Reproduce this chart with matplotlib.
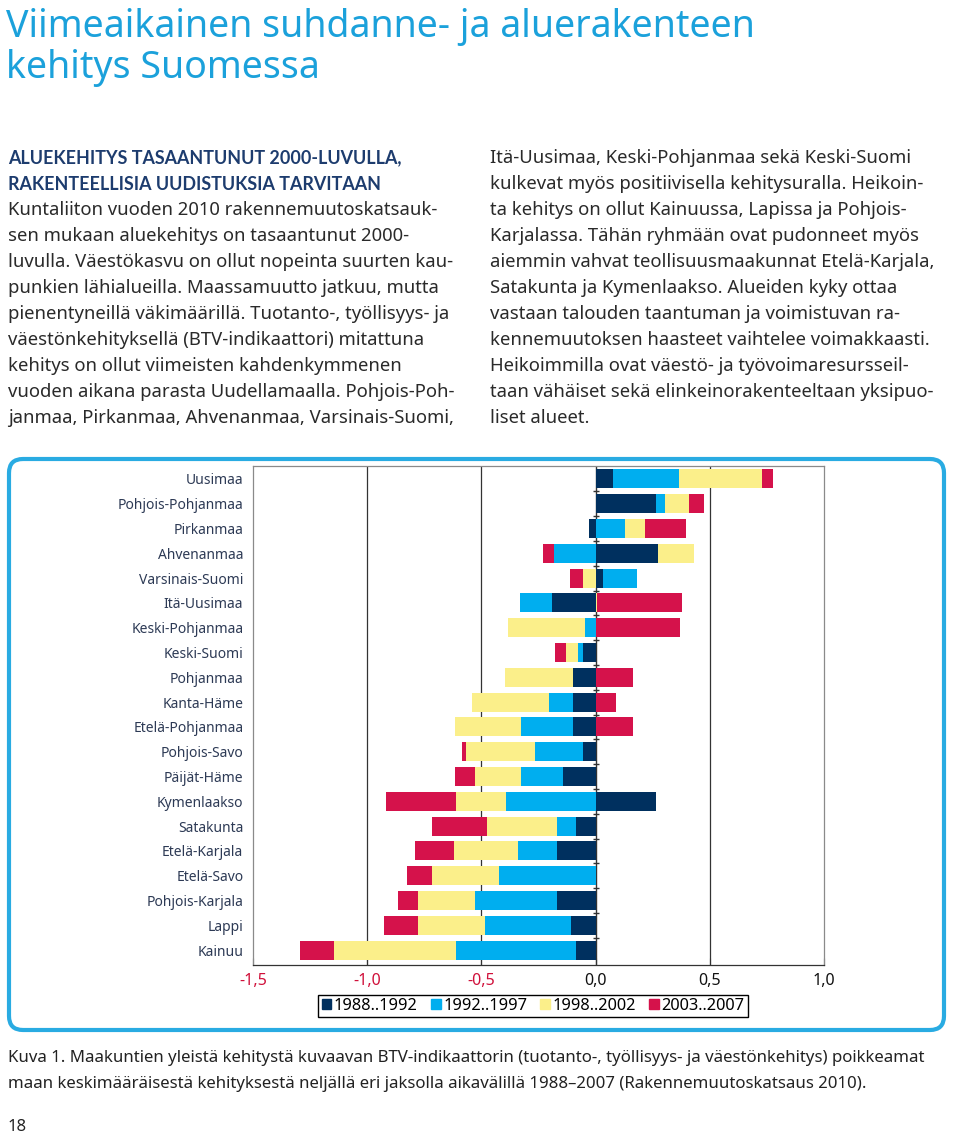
import numpy as np
import matplotlib
matplotlib.use("Agg")
import matplotlib.pyplot as plt
from matplotlib.patches import FancyBboxPatch, Patch

plt.rcParams.update({"font.family": "Noto Sans"})

# ── data ─────────────────────────────────────────────────────────────────────
regions = ["Uusimaa", "Pohjois-Pohjanmaa", "Pirkanmaa", "Ahvenanmaa", "Varsinais-Suomi",
           "Itä-Uusimaa", "Keski-Pohjanmaa", "Keski-Suomi", "Pohjanmaa", "Kanta-Häme",
           "Etelä-Pohjanmaa", "Pohjois-Savo", "Päijät-Häme", "Kymenlaakso", "Satakunta",
           "Etelä-Karjala", "Etelä-Savo", "Pohjois-Karjala", "Lappi", "Kainuu"]
periods = ["1988..1992", "1992..1997", "1998..2002", "2003..2007"]
p1988 = [0.074, 0.263, -0.030, 0.272, 0.031, -0.192, 0.000, -0.057, -0.099, -0.099,
         -0.099, -0.057, -0.141, 0.266, -0.088, -0.170, 0.000, -0.170, -0.108, -0.088]
p1992 = [0.290, 0.040, 0.130, -0.183, 0.152, -0.141, -0.046, -0.020, 0.000, -0.105,
         -0.229, -0.209, -0.187, -0.392, -0.082, -0.170, -0.423, -0.356, -0.376, -0.522]
p1998 = [0.365, 0.105, 0.085, 0.161, -0.057, 0.006, -0.339, -0.053, -0.297, -0.337,
         -0.288, -0.302, -0.200, -0.218, -0.305, -0.282, -0.293, -0.251, -0.293, -0.534]
p2003 = [0.046, 0.067, 0.180, -0.046, -0.056, 0.372, 0.368, -0.046, 0.163, 0.090,
         0.163, -0.015, -0.088, -0.308, -0.243, -0.170, -0.108, -0.088, -0.150, -0.152]
xticks = [-1.5, -1.0, -0.5, 0.0, 0.5, 1.0]

C_NAVY = "#00305f"; C_CYAN = "#00aeef"; C_YEL = "#fbef8a"; C_RED = "#d5124b"
C_TITLE = "#1ba1db"; C_HEAD = "#1d3c6e"; C_BODY = "#2a2a2a"; C_LAB = "#2d3a55"
colors = [C_NAVY, C_CYAN, C_YEL, C_RED]

title_lines = ["Viimeaikainen suhdanne- ja aluerakenteen", "kehitys Suomessa"]
head_lines = ["ALUEKEHITYS TASAANTUNUT 2000-LUVULLA,", "RAKENTEELLISIA UUDISTUKSIA TARVITAAN"]
left_lines = [
    "Kuntaliiton vuoden 2010 rakennemuutoskatsauk-",
    "sen mukaan aluekehitys on tasaantunut 2000-",
    "luvulla. Väestökasvu on ollut nopeinta suurten kau-",
    "punkien lähialueilla. Maassamuutto jatkuu, mutta",
    "pienentyneillä väkimäärillä. Tuotanto-, työllisyys- ja",
    "väestönkehityksellä (BTV-indikaattori) mitattuna",
    "kehitys on ollut viimeisten kahdenkymmenen",
    "vuoden aikana parasta Uudellamaalla. Pohjois-Poh-",
    "janmaa, Pirkanmaa, Ahvenanmaa, Varsinais-Suomi,",
]
right_lines = [
    "Itä-Uusimaa, Keski-Pohjanmaa sekä Keski-Suomi",
    "kulkevat myös positiivisella kehitysuralla. Heikoin-",
    "ta kehitys on ollut Kainuussa, Lapissa ja Pohjois-",
    "Karjalassa. Tähän ryhmään ovat pudonneet myös",
    "aiemmin vahvat teollisuusmaakunnat Etelä-Karjala,",
    "Satakunta ja Kymenlaakso. Alueiden kyky ottaa",
    "vastaan talouden taantuman ja voimistuvan ra-",
    "kennemuutoksen haasteet vaihtelee voimakkaasti.",
    "Heikoimmilla ovat väestö- ja työvoimaresursseil-",
    "taan vähäiset sekä elinkeinorakenteeltaan yksipuo-",
    "liset alueet.",
]
caption = ["Kuva 1. Maakuntien yleistä kehitystä kuvaavan BTV-indikaattorin (tuotanto-, työllisyys- ja väestönkehitys) poikkeamat",
           "maan keskimääräisestä kehityksestä neljällä eri jaksolla aikavälillä 1988–2007 (Rakennemuutoskatsaus 2010)."]

W, H = 960, 1135
fig = plt.figure(figsize=(W / 100, H / 100), dpi=100)

# page layer in pixel coordinates
bg = fig.add_axes([0, 0, 1, 1], zorder=0)
bg.set_xlim(0, W); bg.set_ylim(H, 0); bg.axis("off")

for i, t in enumerate(title_lines):
    bg.text(6, 37 + i * 41, t, fontsize=27, color=C_TITLE, va="baseline", ha="left")

lh = 26
for i, t in enumerate(head_lines):
    bg.text(8, 158 + i * lh, t, fontsize=12.9, weight="bold", color=C_HEAD, va="center",
            family="Lato")
for i, t in enumerate(left_lines):
    bg.text(8, 210 + i * lh, t, fontsize=13.3, color=C_BODY, va="center")
for i, t in enumerate(right_lines):
    bg.text(490, 158 + i * lh, t, fontsize=13.3, color=C_BODY, va="center")

box = FancyBboxPatch((9, 459), 935, 571, boxstyle="round,pad=0,rounding_size=14",
                     fc="white", ec="#29abe2", lw=3)
bg.add_patch(box)

for i, t in enumerate(caption):
    bg.text(8, 1062 + i * 26, t, fontsize=12.1, color="#222222", va="baseline")
bg.text(8, 1131, "18", fontsize=12, color="#222222", va="baseline")

# ── chart ───────────────────────────────────────────────────────────────────
ax = fig.add_axes([253 / W, 1 - 965 / H, (824 - 253) / W, (965 - 466) / H], zorder=2)
y = np.arange(len(regions))
pos = np.zeros(len(regions)); neg = np.zeros(len(regions))
for vals, c, lab in zip([p1988, p1992, p1998, p2003], colors, periods):
    v = np.array(vals)
    base = np.where(v >= 0, pos, neg)
    ax.barh(y, v, left=base, height=0.77, color=c, label=lab, zorder=3)
    pos += np.clip(v, 0, None); neg += np.clip(v, None, 0)

ax.set_xlim(-1.5, 1.0)
ax.set_ylim(19.6, -0.52)
for gx in [-1.0, -0.5, 0.5]:
    ax.axvline(gx, color="#333333", lw=0.9, zorder=1)
ax.axvline(0, color="#333333", lw=1.0, zorder=2)
ax.plot(np.zeros(len(regions) - 1), y[:-1] + 0.5, ls="none", marker="_", ms=4,
        color="#333333", zorder=4)

ax.set_yticks(y)
ax.set_yticklabels(regions, fontsize=10, color=C_LAB)
ax.tick_params(axis="y", length=0, pad=7)
ax.set_xticks(xticks)
ax.set_xticklabels([f"{t:.1f}".replace(".", ",") for t in xticks], fontsize=11.5)
ax.tick_params(axis="x", direction="in", length=5, color="#333333", pad=6)
for lbl, t in zip(ax.get_xticklabels(), xticks):
    lbl.set_color("#d0103a" if t < 0 else "#111111")
for s in ax.spines.values():
    s.set_color("#8a8a8a"); s.set_linewidth(0.9)
ax.spines["bottom"].set_color("#333333")

handles = [Patch(color=c) for c in colors]
fig.legend(handles, periods, loc="center", bbox_to_anchor=(533 / W, 1 - 1006 / H), ncol=4,
           fontsize=11.8, frameon=True, fancybox=False, edgecolor="black", framealpha=1,
           handlelength=0.6, handleheight=0.6, handletextpad=0.15, columnspacing=0.8,
           borderpad=0.2)

fig.savefig("out.png", dpi=100)
